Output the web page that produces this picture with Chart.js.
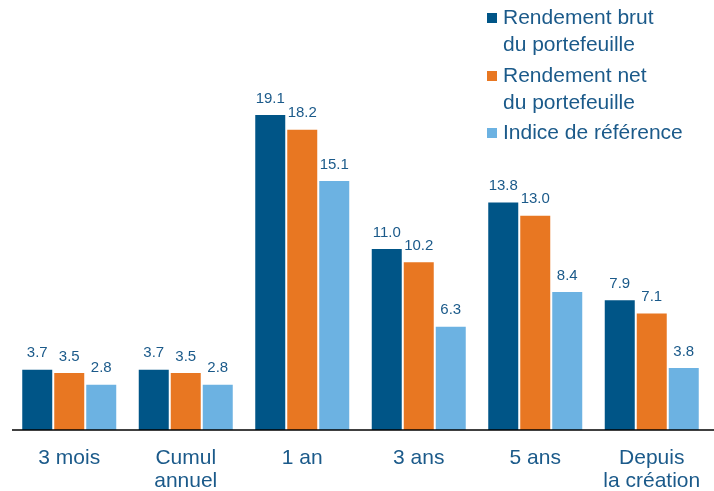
<!DOCTYPE html>
<html>
<head>
<meta charset="utf-8">
<script src="https://cdn.jsdelivr.net/npm/chart.js@4"></script>
<style>
  body { margin: 0; background: #fff; }
  #wrap { position: relative; width: 714px; height: 491px; }
</style>
</head>
<body>
<div id="wrap"><canvas id="perfChart" width="714" height="491"></canvas></div>
<script>
const categories = [['3 mois'], ['Cumul', 'annuel'], ['1 an'], ['3 ans'], ['5 ans'], ['Depuis', 'la création']];
const grossReturn = [3.7, 3.7, 19.1, 11.0, 13.8, 7.9];
const netReturn = [3.5, 3.5, 18.2, 10.2, 13.0, 7.1];
const benchmark = [2.8, 2.8, 15.1, 6.3, 8.4, 3.8];
const seriesNames = [['Rendement brut', 'du portefeuille'], ['Rendement net', 'du portefeuille'], ['Indice de référence']];

const textBlue = '#1b5a8a';
const colors = ['#005587', '#e87722', '#6cb2e2'];

// value labels above each bar
const valueLabels = {
    id: 'valueLabels',
    afterDatasetsDraw(chart) {
        const ctx = chart.ctx;
        ctx.save();
        ctx.font = '15px "Liberation Sans", Arial, sans-serif';
        ctx.fillStyle = textBlue;
        ctx.textAlign = 'center';
        ctx.textBaseline = 'bottom';
        chart.data.datasets.forEach((ds, i) => {
            chart.getDatasetMeta(i).data.forEach((bar, j) => {
                ctx.fillText(ds.data[j].toFixed(1), bar.x, bar.y - 8);
            });
        });
        // baseline runs to the right edge
        const y0 = chart.scales.y.getPixelForValue(0);
        ctx.strokeStyle = '#000000';
        ctx.lineWidth = 1.5;
        ctx.beginPath();
        ctx.moveTo(chart.chartArea.left + 1, y0);
        ctx.lineTo(chart.width, y0);
        ctx.stroke();
        ctx.restore();
    }
};

// legend top right, multi-line labels
const sideLegend = {
    id: 'sideLegend',
    afterDraw(chart) {
        const ctx = chart.ctx;
        ctx.save();
        ctx.font = '21px "Liberation Sans", Arial, sans-serif';
        ctx.textBaseline = 'middle';
        const tops = [18, 76, 133];
        seriesNames.forEach((lines, i) => {
            ctx.fillStyle = colors[i];
            ctx.fillRect(487, tops[i] - 5, 10, 10);
            ctx.fillStyle = textBlue;
            lines.forEach((t, k) => ctx.fillText(t, 503, tops[i] + k * 27));
        });
        ctx.restore();
    }
};

new Chart(document.getElementById('perfChart'), {
    type: 'bar',
    data: {
        labels: categories,
        datasets: [grossReturn, netReturn, benchmark].map((d, i) => ({
            label: seriesNames[i].join(' '),
            data: d,
            backgroundColor: colors[i],
            borderColor: '#ffffff',
            borderWidth: { left: 1, right: 1, top: 1, bottom: 0 },
            borderSkipped: 'bottom',
            categoryPercentage: 0.824,
            barPercentage: 1.0
        }))
    },
    options: {
        responsive: false,
        animation: false,
        layout: { padding: { top: 99, left: 11, right: 4, bottom: 0 } },
        plugins: {
            legend: { display: false },
            tooltip: { enabled: false }
        },
        scales: {
            x: {
                grid: { display: false, drawTicks: false },
                border: { display: false },
                ticks: {
                    color: textBlue,
                    font: { size: 21, family: '"Liberation Sans", Arial, sans-serif', lineHeight: 1.1 },
                    padding: 17,
                    maxRotation: 0
                },
                afterFit(scale) {
                    scale.height = 61;
                    scale.paddingLeft = 0;
                    scale.paddingRight = 0;
                }
            },
            y: {
                display: false,
                min: 0,
                max: 20
            }
        }
    },
    plugins: [valueLabels, sideLegend]
});
</script>
</body>
</html>
